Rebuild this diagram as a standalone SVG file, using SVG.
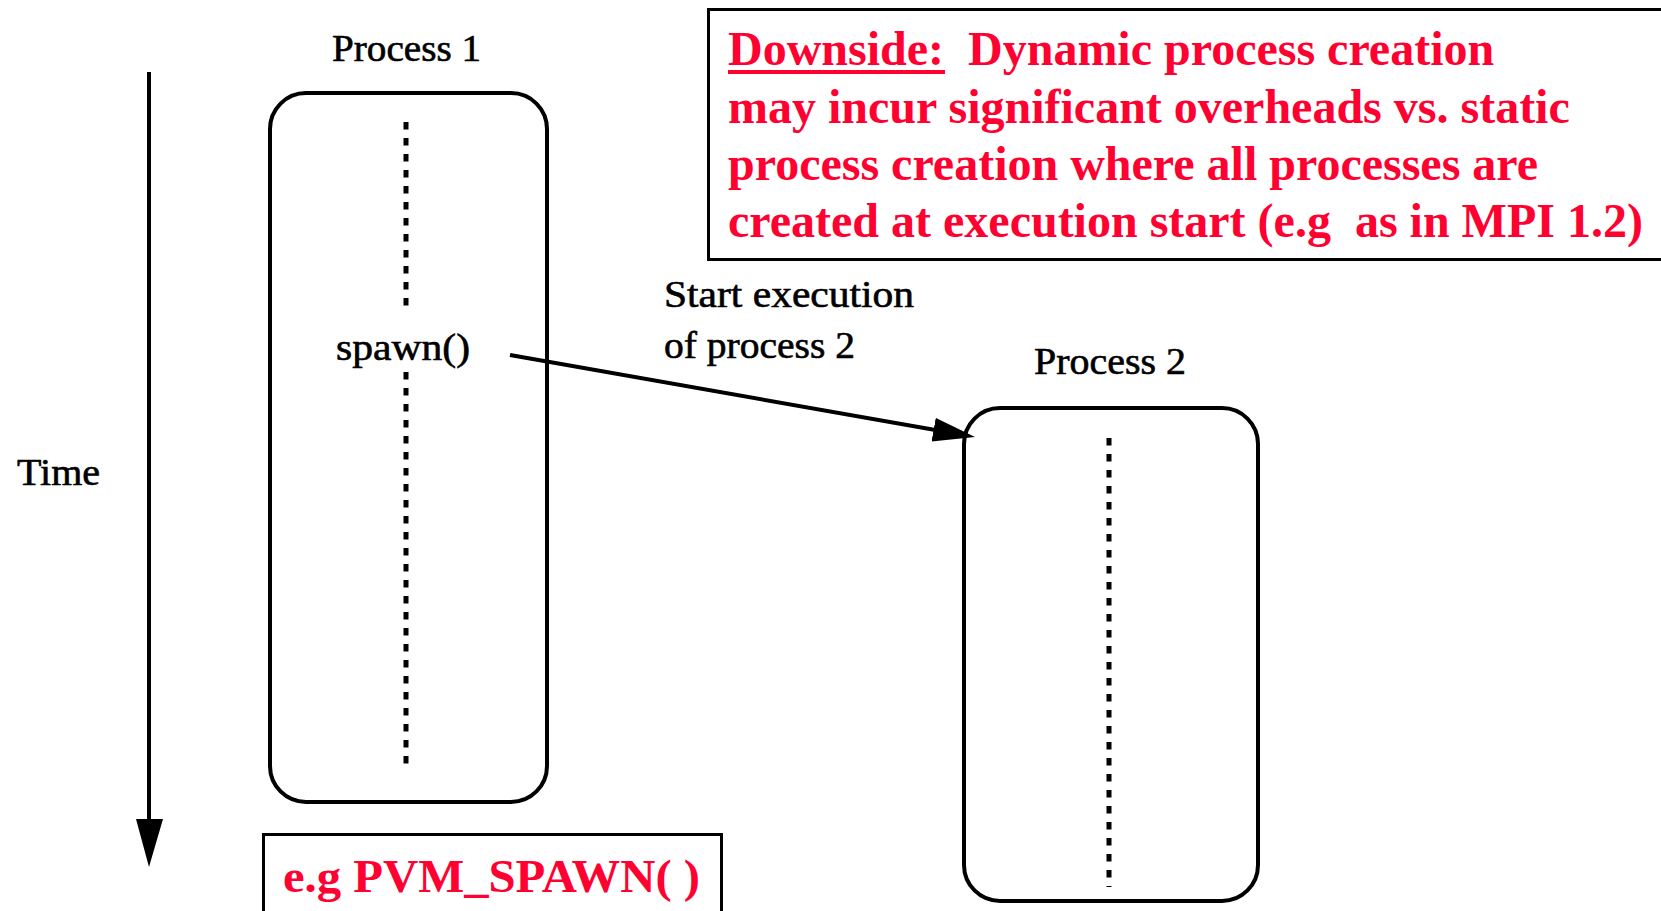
<svg xmlns="http://www.w3.org/2000/svg" width="1661" height="911" viewBox="0 0 1661 911">
  <style>
    .lbl { font-family: "Liberation Serif", "Times New Roman", serif; font-size: 37px; fill: #000; stroke: #000; stroke-width: 0.6; }
    .note { font-family: "Liberation Serif", "Times New Roman", serif; font-size: 48px; font-weight: bold; fill: #ff0030; }
    .box { fill: none; stroke: #000; stroke-width: 4; }
    .frame { fill: none; stroke: #000; stroke-width: 3; }
    .life { fill: none; stroke: #000; stroke-width: 5; stroke-dasharray: 7.5 8.5; }
    .edge { fill: none; stroke: #000; stroke-width: 4; }
  </style>
  <defs>
    <marker id="head" markerUnits="userSpaceOnUse" markerWidth="44" markerHeight="26" refX="22" refY="12" orient="auto">
      <path d="M0,0 L42,12 L0,24 Z" fill="#000"/>
    </marker>
  </defs>
  <rect width="1661" height="911" fill="#fff"/>

  <!-- time axis -->
  <g id="time-axis">
    <line x1="149" y1="72" x2="149" y2="824" class="edge"/>
    <polygon points="136,819 163,819 149,867" fill="#000"/>
    <text x="17" y="485" class="lbl" textLength="83" lengthAdjust="spacingAndGlyphs">Time</text>
  </g>

  <!-- process 1 -->
  <g id="process1">
    <text x="332" y="61" class="lbl" textLength="149" lengthAdjust="spacingAndGlyphs">Process 1</text>
    <rect x="270" y="93" width="277" height="709" rx="36" ry="36" class="box"/>
    <line x1="406" y1="122" x2="406" y2="309" class="life"/>
    <text x="336" y="360" class="lbl" textLength="134" lengthAdjust="spacingAndGlyphs">spawn()</text>
    <line x1="406" y1="372" x2="406" y2="772" class="life"/>
  </g>

  <!-- process 2 -->
  <g id="process2">
    <text x="1034" y="374" class="lbl" textLength="152" lengthAdjust="spacingAndGlyphs">Process 2</text>
    <rect x="964" y="408" width="294" height="493" rx="36" ry="36" class="box"/>
    <line x1="1109" y1="438" x2="1109" y2="887" class="life"/>
  </g>

  <!-- spawn connector -->
  <g id="connectors">
    <line x1="510" y1="355" x2="955.3" y2="433.5" class="edge" marker-end="url(#head)"/>
    <text x="664" y="307" class="lbl" textLength="250" lengthAdjust="spacingAndGlyphs">Start execution</text>
    <text x="664" y="358" class="lbl" textLength="191" lengthAdjust="spacingAndGlyphs">of process 2</text>
  </g>

  <!-- downside note -->
  <g id="downside-note">
    <rect x="708.5" y="9.5" width="980" height="250" class="frame"/>
    <text x="728" y="65" class="note" xml:space="preserve">Downside:  Dynamic process creation</text>
    <line x1="728" y1="72" x2="945" y2="72" stroke="#ff0030" stroke-width="4"/>
    <text x="728" y="123" class="note">may incur significant overheads vs. static</text>
    <text x="728" y="180" class="note">process creation where all processes are</text>
    <text x="728" y="237" class="note" xml:space="preserve">created at execution start (e.g  as in MPI 1.2)</text>
  </g>

  <!-- example call -->
  <g id="pvm-note">
    <rect x="263.5" y="834.5" width="458" height="100" class="frame"/>
    <text x="283" y="892" class="note" style="font-size:46px" xml:space="preserve" textLength="417" lengthAdjust="spacingAndGlyphs">e.g PVM_SPAWN( )</text>
  </g>
</svg>
